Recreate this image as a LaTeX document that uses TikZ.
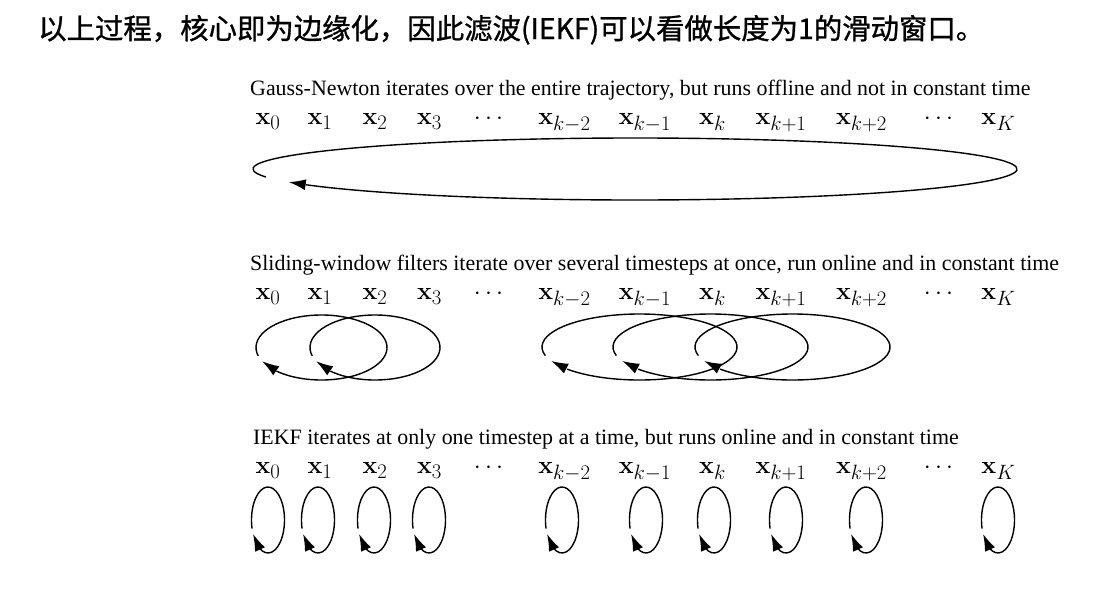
\documentclass[tikz,border=0pt]{standalone}
\usepackage[no-math]{fontspec}
\setmainfont{Liberation Serif}
\newfontfamily\cjk[FakeBold=1]{Noto Sans CJK SC}
\usetikzlibrary{arrows.meta,bending}
\tikzset{
  loopline/.style={line width=1.4pt,-{Latex[length=17pt,width=11pt]}},
  caption/.style={anchor=base west,inner sep=0pt,font=\fontsize{21.9}{25}\selectfont},
  lab/.style={anchor=base,inner sep=0pt,font=\fontsize{28.5}{32}\selectfont},
  title/.style={anchor=base west,inner sep=0pt,font=\cjk\fontsize{28.4}{32}\selectfont}
}
\newcommand\iterloop[4]{\draw[loopline] (#1,#2) ++(195:#3pt and #4pt) arc[start angle=195,end angle=-155,x radius=#3pt,y radius=#4pt];}
\newcommand\labrow[2]{%
  \node[lab] (#1a) at (268,#2) {$\mathbf{x}_0$};
  \node[lab] (#1b) at (320,#2) {$\mathbf{x}_1$};
  \node[lab] (#1c) at (375,#2) {$\mathbf{x}_2$};
  \node[lab] (#1d) at (429.5,#2) {$\mathbf{x}_3$};
  \node[lab] (#1e) at (488.5,#2) {$\cdots$};
  \node[lab] (#1f) at (564.5,#2) {$\mathbf{x}_{k-2}$};
  \node[lab] (#1g) at (645,#2) {$\mathbf{x}_{k-1}$};
  \node[lab] (#1h) at (712.5,#2) {$\mathbf{x}_k$};
  \node[lab] (#1i) at (781,#2) {$\mathbf{x}_{k+1}$};
  \node[lab] (#1j) at (861.5,#2) {$\mathbf{x}_{k+2}$};
  \node[lab] (#1k) at (938.5,#2) {$\cdots$};
  \node[lab] (#1l) at (998.5,#2) {$\mathbf{x}_K$};
}
\begin{document}
\begin{tikzpicture}[x=1pt,y=1pt]
\fill[white] (0,0) rectangle (1095,-595);
\useasboundingbox (0,0) rectangle (1095,-595);
\node[title] (ttl) at (38,-39) {以上过程，核心即为边缘化，因此滤波(IEKF)可以看做长度为1的滑动窗口。};
% row 1
\node[caption] (cap1) at (250,-95) {Gauss-Newton iterates over the entire trajectory, but runs offline and not in constant time};
\labrow{r1}{-124.5}
\iterloop{635}{-169}{382}{31}
% row 2
\node[caption] (cap2) at (250,-270) {Sliding-window filters iterate over several timesteps at once, run online and in constant time};
\labrow{r2}{-299.5}
\iterloop{321.5}{-347.5}{65.5}{32.5}
\iterloop{375}{-347.5}{65}{32.5}
\iterloop{639.5}{-347}{97.5}{33}
\iterloop{710.5}{-347}{97.5}{33}
\iterloop{792.5}{-347}{97.5}{33}
% row 3
\node[caption] (cap3) at (253,-444) {IEKF iterates at only one timestep at a time, but runs online and in constant time};
\labrow{r3}{-473.5}
\foreach \cx in {268,318,374,429,562,646,714,786,866,998}{\iterloop{\cx}{-520}{16.5}{33}}
\end{tikzpicture}
\end{document}
